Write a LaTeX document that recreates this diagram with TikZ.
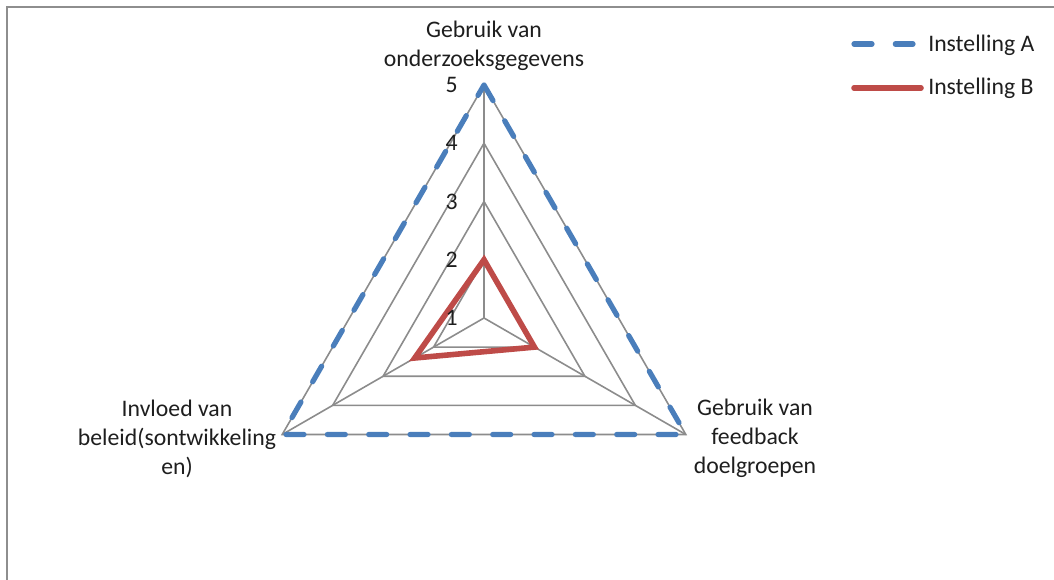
\documentclass[tikz,border=0pt]{standalone}
\usepackage{fontspec}
\setmainfont{Carlito}
\definecolor{gridgray}{HTML}{8C8C8C}
\definecolor{framegray}{HTML}{8E8E8E}
\definecolor{blueA}{HTML}{4A7EBB}
\definecolor{redB}{HTML}{BE4B48}
\definecolor{txt}{HTML}{1E1E1E}
\begin{document}
\begin{tikzpicture}[x=0.75pt,y=-0.75pt,
  framestyle/.style={draw=framegray,line width=1.5pt},
  gridline/.style={draw=gridgray,line width=1.2pt},
  serieA/.style={draw=blueA,line width=3.9pt,dash pattern=on 13.5pt off 17.5pt,line cap=round,line join=round},
  serieB/.style={draw=redB,line width=4.2pt,line join=miter},
  lbl/.style={font=\fontsize{17.8}{22}\selectfont,text=txt,inner sep=0pt,align=center,anchor=base},
  tick/.style={font=\fontsize{17.8}{22}\selectfont,text=txt,inner sep=0pt,anchor=east},
  legtext/.style={font=\fontsize{17.8}{22}\selectfont,text=txt,inner sep=0pt,anchor=base west}]
\useasboundingbox (0,0) rectangle (1054,580);
% chart area border (top and left edges)
\draw[framestyle] (7,580) -- (7,7) -- (1054,7);

% radar grid and series, centred on the value 1
\begin{scope}[shift={(484,318)}]
  \def\stp{58.25}
  \coordinate (O) at (0,0);
  \foreach \v in {2,3,4,5}{
    \draw[gridline] (-90:{(\v-1)*\stp}) -- (30:{(\v-1)*\stp}) -- (150:{(\v-1)*\stp}) -- cycle;
  }
  \coordinate (axT) at (-90:233);
  \coordinate (axR) at (30:233);
  \coordinate (axL) at (150:233);
  \draw[gridline] (O) -- (axT) (O) -- (axR) (O) -- (axL);
  % Instelling B: 2, 2, 2.37
  \coordinate (bT) at (-90:58.25);
  \coordinate (bR) at (30:58.25);
  \coordinate (bL) at (150:80);
  \draw[serieB] (bT) -- (bR) -- (bL) -- cycle;
  % Instelling A: 5, 5, 5
  \draw[serieA] (axT) -- (axR) -- (axL) -- cycle;
\end{scope}

% value labels
\foreach \v in {1,...,5}{
  \node[tick] (t\v) at (458,{318-(\v-1)*58.25}) {\v};
}

% category labels (anchored on the baseline of the last line)
\node[lbl] (labT) at (484,67) {Gebruik van\\onderzoeksgegevens};
\node[lbl] (labR) at (755,474) {Gebruik van\\feedback\\doelgroepen};
\node[lbl] (labL) at (177,475) {Invloed van\\beleid(sontwikkeling\\en)};

% legend
\coordinate (aS) at (854,44);
\coordinate (aE) at (913,44);
\draw[serieA] (aS) -- (aE);
\node[legtext] (legA) at (928,51.7) {Instelling A};
\coordinate (bS) at (854,88);
\coordinate (bE) at (921,88);
\draw[serieB,line cap=round] (bS) -- (bE);
\node[legtext] (legB) at (928,95) {Instelling B};
\end{tikzpicture}
\end{document}
